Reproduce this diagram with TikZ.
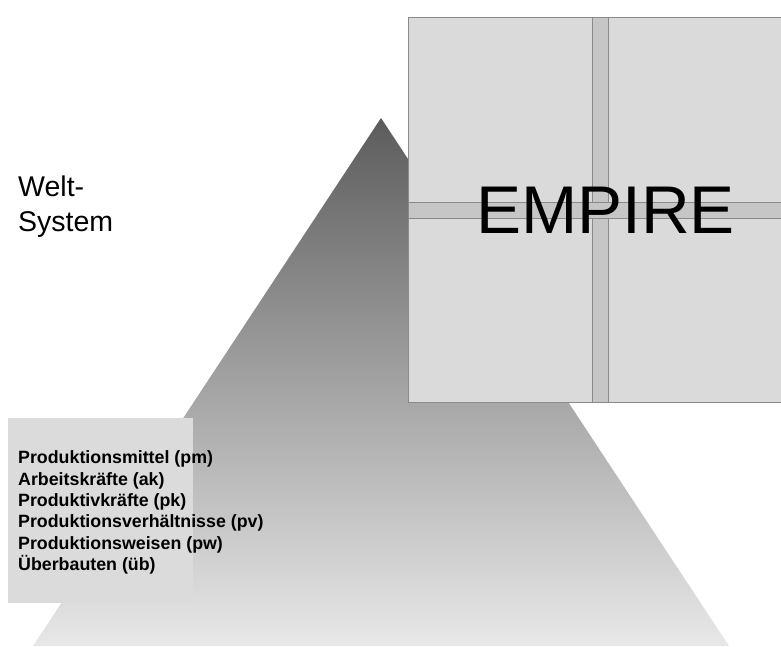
\documentclass[tikz,border=0pt]{standalone}
\usepackage{fontspec}
\setmainfont{Liberation Sans}
\definecolor{apexgray}{HTML}{5C5C5C}
\definecolor{basegray}{HTML}{E8E8E8}
\definecolor{empirefill}{HTML}{DADADA}
\definecolor{bandfill}{HTML}{C6C6C6}
\definecolor{edgegray}{HTML}{8A8A8A}
\definecolor{listfill}{HTML}{DBDBDB}
\tikzset{
  bandstyle/.style={fill=bandfill, draw=edgegray, line width=0.9pt},
  listtext/.style={anchor=north west, inner sep=0pt, align=left, font=\fontsize{17.8}{21.4}\selectfont\bfseries},
  welttext/.style={anchor=north west, inner sep=0pt, align=left, font=\fontsize{28.5}{35}\selectfont},
  empiretext/.style={anchor=base west, inner sep=0pt, font=\fontsize{67.5}{70}\selectfont},
}
\begin{document}
\begin{tikzpicture}[x=1pt,y=-1pt]
\useasboundingbox (0,0) rectangle (781,646);
% pyramid
\shade[top color=apexgray, bottom color=basegray] (381,118) -- (729,646) -- (33,646) -- cycle;
% empire square
\filldraw[fill=empirefill, draw=edgegray, line width=0.9pt] (408,17) rectangle (790,402);
\path[bandstyle] (592,17) rectangle (608,402);
\path[bandstyle] (408,202) rectangle (790,218);
\draw[edgegray, line width=0.9pt] (408,17) -- (408,402) -- (790,402);
\draw[edgegray, line width=0.9pt] (408,17) -- (790,17);
\node[empiretext] (empire) at (476,233) {EMPIRE};
% welt-system
\node[welttext] (welt) at (18,176) {Welt-\\System};
% list box
\node[fill=listfill, minimum width=185pt, minimum height=185pt, anchor=north west, inner sep=0pt] (box) at (8,418) {};
\node[listtext] (list) at (18,450.5) {Produktionsmittel (pm)\\Arbeitskräfte (ak)\\Produktivkräfte (pk)\\Produktionsverhältnisse (pv)\\Produktionsweisen (pw)\\Überbauten (üb)};
\end{tikzpicture}
\end{document}
